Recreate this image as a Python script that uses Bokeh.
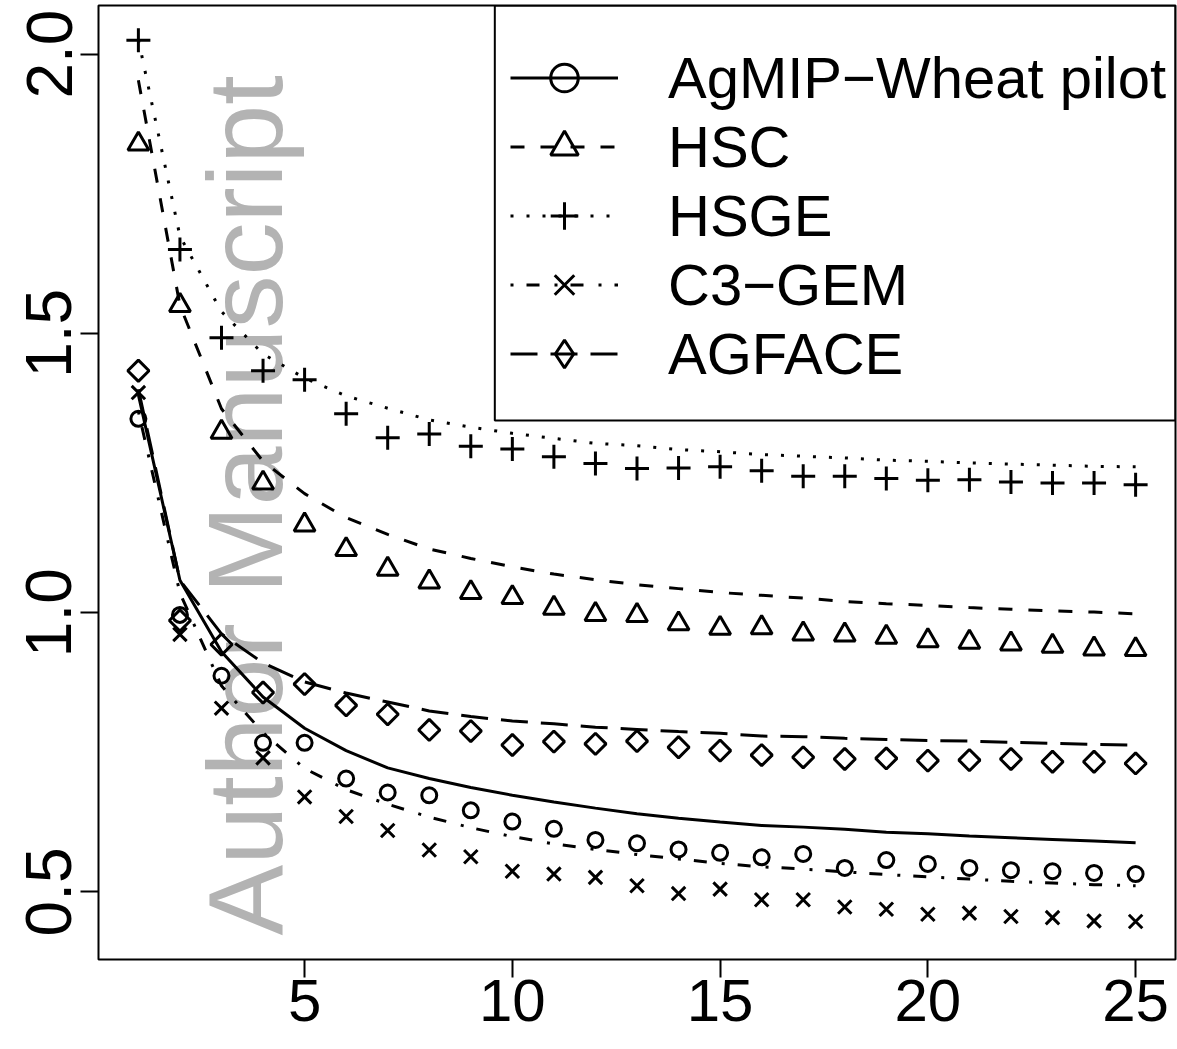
import math
from bokeh.plotting import figure
from bokeh.models import Range1d, FixedTicker, Legend, LegendItem, Label, BoxAnnotation
from bokeh.embed import file_html
from bokeh.resources import INLINE

# ---- data ----
seasons = [1, 2, 3, 4, 5, 6, 7, 8, 9, 10, 11, 12, 13, 14, 15, 16, 17, 18, 19, 20, 21, 22, 23, 24, 25]

agmip_obs = [1.347, 0.996, 0.887, 0.767, 0.767, 0.703, 0.678, 0.673, 0.646, 0.626, 0.613, 0.593, 0.587,
             0.576, 0.570, 0.562, 0.568, 0.543, 0.557, 0.550, 0.543, 0.539, 0.537, 0.534, 0.532]
agmip_fit = [1.390, 1.058, 0.930, 0.849, 0.793, 0.753, 0.722, 0.703, 0.687, 0.673, 0.661, 0.650, 0.640,
             0.632, 0.625, 0.619, 0.616, 0.612, 0.607, 0.604, 0.600, 0.597, 0.594, 0.591, 0.588]

hsc_obs = [1.839, 1.550, 1.323, 1.232, 1.157, 1.113, 1.078, 1.055, 1.036, 1.027, 1.008, 0.997, 0.995,
           0.980, 0.972, 0.973, 0.962, 0.960, 0.956, 0.950, 0.947, 0.944, 0.940, 0.935, 0.934]
hsc_fit = [1.953, 1.550, 1.365, 1.271, 1.213, 1.170, 1.140, 1.114, 1.097, 1.082, 1.069, 1.059, 1.050,
           1.043, 1.036, 1.031, 1.026, 1.020, 1.016, 1.013, 1.009, 1.006, 1.003, 1.001, 0.998]

hsge_obs = [2.025, 1.650, 1.492, 1.433, 1.417, 1.356, 1.313, 1.320, 1.298, 1.293, 1.279, 1.267, 1.258,
            1.259, 1.261, 1.254, 1.244, 1.244, 1.240, 1.237, 1.238, 1.234, 1.232, 1.232, 1.229]
hsge_fit = [2.026, 1.674, 1.539, 1.463, 1.420, 1.388, 1.366, 1.345, 1.332, 1.321, 1.312, 1.303, 1.299,
            1.292, 1.288, 1.283, 1.280, 1.277, 1.273, 1.271, 1.268, 1.266, 1.264, 1.262, 1.261]

c3gem_obs = [1.394, 0.961, 0.829, 0.740, 0.670, 0.635, 0.610, 0.575, 0.563, 0.537, 0.532, 0.526, 0.511,
             0.497, 0.505, 0.486, 0.486, 0.473, 0.469, 0.460, 0.462, 0.456, 0.454, 0.448, 0.447]
c3gem_fit = [1.360, 1.035, 0.869, 0.785, 0.721, 0.683, 0.657, 0.634, 0.615, 0.599, 0.586, 0.576, 0.567,
             0.559, 0.551, 0.545, 0.541, 0.536, 0.531, 0.527, 0.523, 0.519, 0.516, 0.513, 0.511]

agface_obs = [1.433, 0.986, 0.943, 0.857, 0.872, 0.834, 0.818, 0.790, 0.788, 0.763, 0.769, 0.765, 0.770,
              0.759, 0.753, 0.745, 0.741, 0.738, 0.739, 0.735, 0.736, 0.738, 0.733, 0.733, 0.730]
agface_fit = [1.400, 1.058, 0.962, 0.910, 0.876, 0.856, 0.840, 0.824, 0.814, 0.806, 0.801, 0.795, 0.791,
              0.787, 0.784, 0.779, 0.778, 0.775, 0.773, 0.771, 0.770, 0.768, 0.766, 0.764, 0.763]

series_names = ["AgMIP\u2212Wheat pilot", "HSC", "HSGE", "C3\u2212GEM", "AGFACE"]

x_ticks = [5, 10, 15, 20, 25]
x_tick_labels = ["5", "10", "15", "20", "25"]
y_ticks = [0.5, 1.0, 1.5, 2.0]
y_tick_labels = ["0.5", "1.0", "1.5", "2.0"]

watermark_text = "Author Manuscript"

# ---- figure ----
FONT = "Liberation Sans"
p = figure(width=1177, height=1049,
           x_range=Range1d(0.04, 25.96), y_range=Range1d(0.379, 2.087),
           output_backend="svg", toolbar_location=None,
           min_border_left=98, min_border_right=2, min_border_top=5, min_border_bottom=90)
p.background_fill_color = "white"
p.border_fill_color = "white"
p.grid.visible = False
p.outline_line_color = "black"
p.outline_line_width = 2

# y axis
p.yaxis.ticker = FixedTicker(ticks=y_ticks)
p.yaxis.major_label_overrides = {t: l for t, l in zip(y_ticks, y_tick_labels)}
p.yaxis.major_label_orientation = "vertical"
p.yaxis.major_label_text_font = FONT
p.yaxis.major_label_text_font_size = "64px"
p.yaxis.major_label_text_color = "black"
p.yaxis.major_label_standoff = 9
p.yaxis.major_tick_out = 18
p.yaxis.major_tick_in = 0
p.yaxis.major_tick_line_width = 2
p.yaxis.minor_tick_line_color = None
p.yaxis.axis_line_color = None

# x axis
p.xaxis.ticker = FixedTicker(ticks=x_ticks)
p.xaxis.major_label_overrides = {t: l for t, l in zip(x_ticks, x_tick_labels)}
p.xaxis.major_label_text_font = FONT
p.xaxis.major_label_text_font_size = "60px"
p.xaxis.major_label_text_color = "black"
p.xaxis.major_label_standoff = 2
p.xaxis.major_tick_out = 18
p.xaxis.major_tick_in = 0
p.xaxis.major_tick_line_width = 2
p.xaxis.minor_tick_line_color = None
p.xaxis.axis_line_color = None

# watermark (behind the data)
p.add_layout(Label(x=3.56, y=0.422, text=watermark_text, angle=math.pi / 2,
                   text_font=FONT, text_font_size="106px", text_color="#b3b3b3",
                   text_align="left", text_baseline="alphabetic", level="underlay"))

# ---- series ----
styles = [
    (agmip_fit, agmip_obs, None, "circle", 15, 0.0, "circle"),
    (hsc_fit, hsc_obs, "14 16", "triangle", 21, 0.0, "triangle"),
    (hsge_fit, hsge_obs, "3 13", "cross", 24, 0.0, "cross"),
    (c3gem_fit, c3gem_obs, "3 13 13 15", "x", 19, 0.0, "x"),
    (agface_fit, agface_obs, "27 13", "square", 15, math.pi / 4, "diamond"),
]

items = []
for name, (fit, obs, dash, marker, size, ang, legend_marker) in zip(series_names, styles):
    kw = dict(line_color="black", line_width=3)
    if dash is not None:
        kw["line_dash"] = dash
    r_line = p.line(seasons, fit, **kw)
    r_pts = p.scatter(seasons, obs, marker=marker, size=size, angle=ang,
                      fill_color=None, line_color="black", line_width=3)
    if legend_marker == marker and ang == 0.0:
        items.append(LegendItem(label=name, renderers=[r_line, r_pts]))
    else:
        # hidden twin of the same points, used only for the legend symbol (unrotated diamond)
        r_leg = p.scatter(seasons, obs, marker=legend_marker, size=size,
                          fill_color=None, line_color="black", line_width=3, visible=False)
        items.append(LegendItem(label=name, renderers=[r_line, r_leg]))

legend = Legend(items=items, location=(412, 571), padding=0, spacing=0, margin=0,
                glyph_width=108, glyph_height=69, label_height=69, label_standoff=50,
                label_text_font=FONT, label_text_font_size="58px", label_text_color="black",
                border_line_alpha=0, background_fill_alpha=0, inactive_fill_alpha=0)
p.add_layout(legend)

# legend frame (R style box reaching the plot's top-right corner)
p.add_layout(BoxAnnotation(left=9.578, bottom=1.344, fill_alpha=0,
                           line_color="black", line_width=2, line_alpha=1))

open("out.html", "w").write(file_html(p, INLINE))
